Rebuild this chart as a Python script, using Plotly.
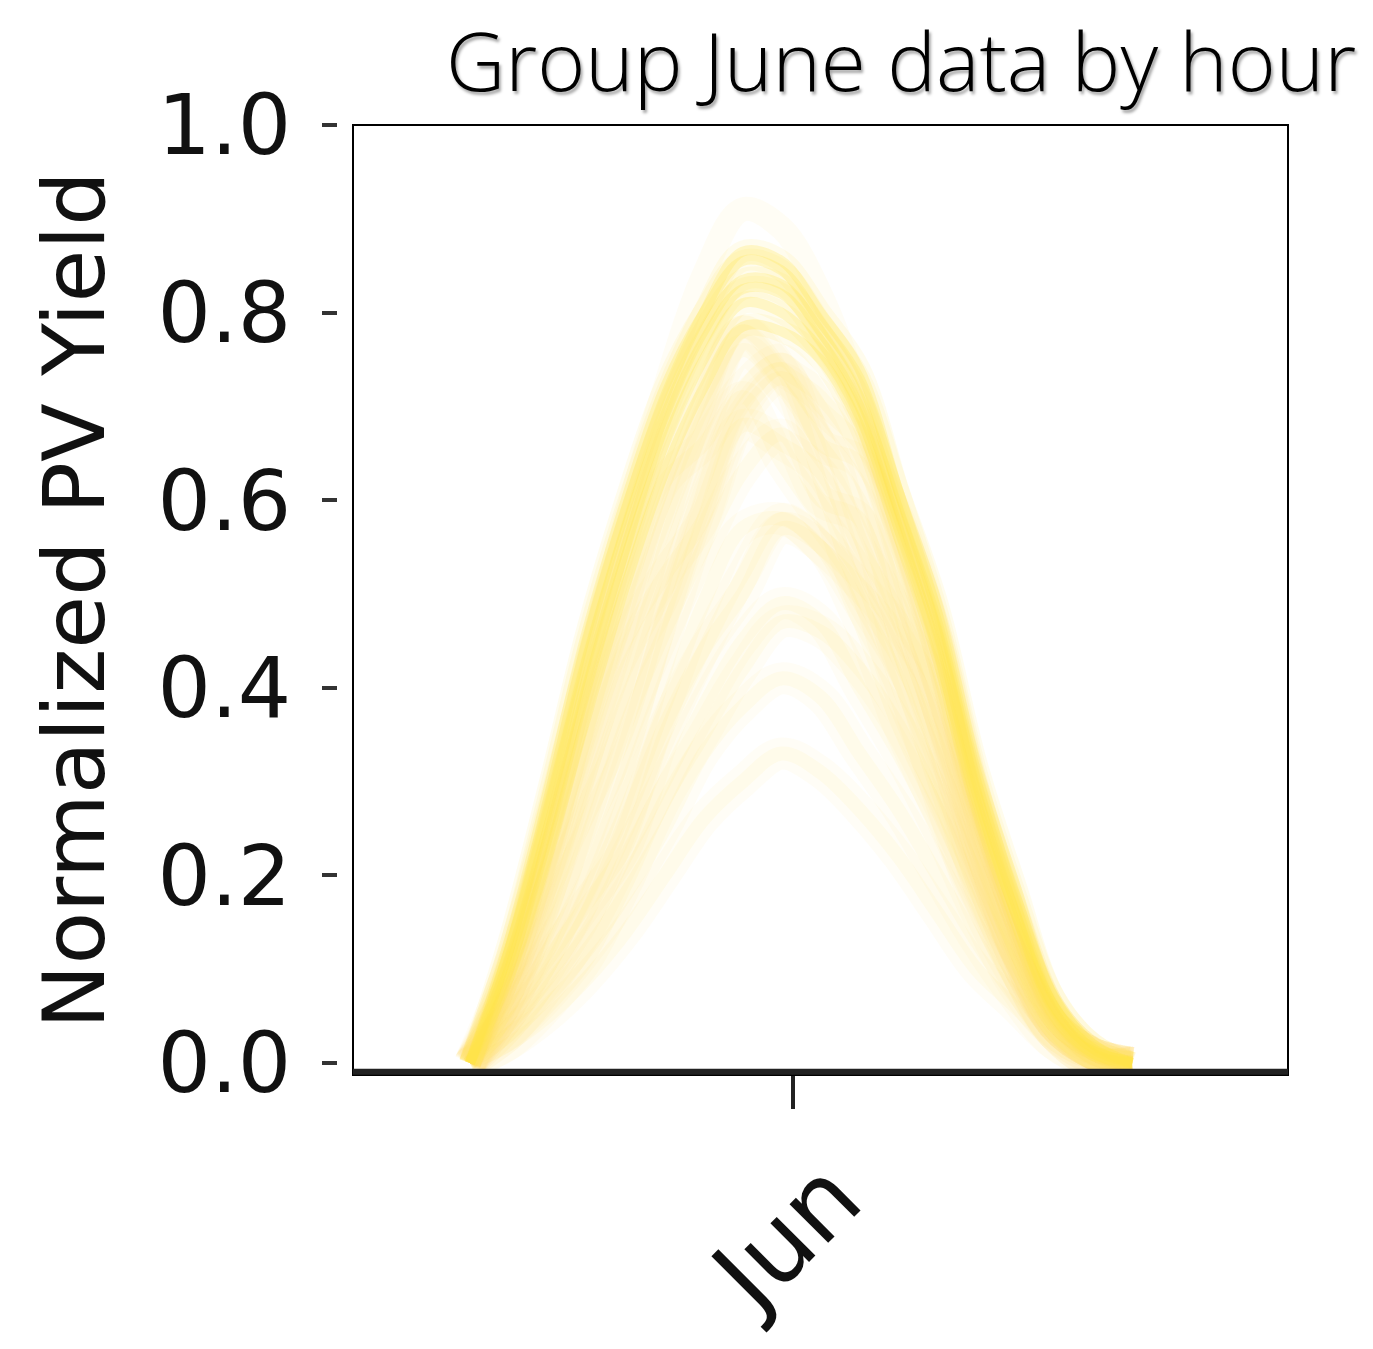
import plotly.graph_objects as go

# Hour of day for each sample
hours = [3, 4, 5, 6, 7, 8, 9, 10, 11, 12, 13, 14, 15, 16, 17, 18, 19, 20]

# Near clear-sky June days (form the bright outer band)
clear_a = [0, 0.13, 0.29, 0.46, 0.60, 0.72, 0.80, 0.855, 0.845, 0.79, 0.73, 0.61, 0.49, 0.32, 0.19, 0.07, 0.02, 0]
clear_b = [0, 0.12, 0.27, 0.43, 0.57, 0.69, 0.78, 0.835, 0.83, 0.78, 0.71, 0.59, 0.47, 0.30, 0.17, 0.06, 0.015, 0]
clear_c = [0, 0.10, 0.24, 0.40, 0.54, 0.66, 0.75, 0.81, 0.80, 0.76, 0.69, 0.57, 0.44, 0.28, 0.16, 0.055, 0.01, 0]
clear_d = [0, 0.11, 0.25, 0.41, 0.55, 0.68, 0.77, 0.825, 0.82, 0.77, 0.70, 0.58, 0.46, 0.29, 0.16, 0.06, 0.015, 0]
clear_e = [0, 0.09, 0.22, 0.37, 0.51, 0.63, 0.72, 0.785, 0.78, 0.75, 0.68, 0.56, 0.43, 0.27, 0.15, 0.05, 0.01, 0]
clear_f = [0, 0.12, 0.28, 0.45, 0.59, 0.71, 0.80, 0.865, 0.855, 0.80, 0.74, 0.61, 0.48, 0.31, 0.18, 0.07, 0.02, 0]
clear_g = [0, 0.10, 0.25, 0.42, 0.58, 0.72, 0.84, 0.91, 0.89, 0.82, 0.71, 0.57, 0.44, 0.29, 0.15, 0.05, 0.01, 0]

# Cloudy / partly cloudy June days (fainter interior)
cloud_1 = [0, 0.05, 0.12, 0.20, 0.31, 0.45, 0.58, 0.68, 0.66, 0.63, 0.55, 0.48, 0.36, 0.22, 0.12, 0.04, 0.01, 0]
cloud_2 = [0, 0.08, 0.18, 0.30, 0.42, 0.50, 0.62, 0.71, 0.64, 0.58, 0.52, 0.40, 0.30, 0.20, 0.10, 0.03, 0.005, 0]
cloud_3 = [0, 0.03, 0.08, 0.14, 0.22, 0.30, 0.38, 0.45, 0.49, 0.47, 0.40, 0.33, 0.25, 0.16, 0.08, 0.03, 0.005, 0]
cloud_4 = [0, 0.06, 0.15, 0.28, 0.40, 0.55, 0.68, 0.76, 0.72, 0.66, 0.60, 0.50, 0.38, 0.25, 0.13, 0.04, 0.01, 0]
cloud_5 = [0, 0.02, 0.05, 0.09, 0.14, 0.20, 0.26, 0.30, 0.33, 0.31, 0.27, 0.22, 0.16, 0.10, 0.06, 0.02, 0.0, 0]
cloud_6 = [0, 0.07, 0.17, 0.26, 0.35, 0.48, 0.60, 0.70, 0.74, 0.66, 0.64, 0.53, 0.41, 0.27, 0.14, 0.05, 0.01, 0]
cloud_7 = [0, 0.04, 0.10, 0.18, 0.27, 0.38, 0.49, 0.57, 0.58, 0.55, 0.47, 0.36, 0.27, 0.18, 0.10, 0.03, 0.0, 0]
cloud_8 = [0, 0.09, 0.21, 0.35, 0.48, 0.60, 0.70, 0.78, 0.74, 0.71, 0.65, 0.52, 0.38, 0.24, 0.12, 0.04, 0.01, 0]
cloud_9 = [0, 0.05, 0.11, 0.17, 0.23, 0.35, 0.44, 0.52, 0.58, 0.55, 0.51, 0.46, 0.35, 0.23, 0.12, 0.04, 0.01, 0]
cloud_10 = [0, 0.03, 0.07, 0.12, 0.18, 0.25, 0.33, 0.38, 0.41, 0.39, 0.33, 0.27, 0.20, 0.13, 0.07, 0.02, 0.0, 0]
cloud_11 = [0, 0.06, 0.14, 0.24, 0.36, 0.46, 0.55, 0.63, 0.67, 0.60, 0.58, 0.44, 0.33, 0.21, 0.11, 0.04, 0.01, 0]
cloud_12 = [0, 0.10, 0.23, 0.38, 0.50, 0.62, 0.66, 0.72, 0.75, 0.70, 0.66, 0.58, 0.45, 0.28, 0.15, 0.05, 0.01, 0]
cloud_13 = [0, 0.04, 0.09, 0.16, 0.26, 0.36, 0.44, 0.50, 0.57, 0.55, 0.49, 0.41, 0.29, 0.17, 0.09, 0.03, 0.0, 0]
cloud_14 = [0, 0.07, 0.19, 0.33, 0.45, 0.52, 0.58, 0.69, 0.73, 0.68, 0.56, 0.47, 0.40, 0.26, 0.14, 0.05, 0.01, 0]
cloud_15 = [0, 0.02, 0.06, 0.11, 0.19, 0.28, 0.35, 0.42, 0.47, 0.46, 0.42, 0.36, 0.28, 0.19, 0.10, 0.03, 0.0, 0]
cloud_16 = [0, 0.08, 0.20, 0.34, 0.47, 0.58, 0.69, 0.78, 0.74, 0.62, 0.50, 0.43, 0.34, 0.21, 0.11, 0.04, 0.01, 0]

x_tick_vals = [11.3]
x_tick_text = ["Jun"]
y_tick_vals = [0.0, 0.2, 0.4, 0.6, 0.8, 1.0]
y_tick_text = ["0.0", "0.2", "0.4", "0.6", "0.8", "1.0"]

title_text = "Group June data by hour"
y_title = "Normalized PV Yield"

clear_days = [clear_a, clear_b, clear_c, clear_d, clear_e, clear_f]
faint_days = [clear_g]
cloudy_days = [cloud_1, cloud_2, cloud_3, cloud_4, cloud_5, cloud_6, cloud_7, cloud_8,
               cloud_9, cloud_10, cloud_11, cloud_12, cloud_13, cloud_14, cloud_15, cloud_16]

fig = go.Figure()

def add_day(vals, color, width):
    fig.add_trace(go.Scatter(x=hours, y=vals, mode="lines", line_shape="spline",
                             line=dict(color=color, width=width),
                             hoverinfo="skip", showlegend=False))

# soft halos (blur-like)
for d in cloudy_days:
    add_day(d, "rgba(255,225,110,0.06)", 32)
for d in cloudy_days:
    add_day(d, "rgba(255,225,100,0.08)", 14)
for d in faint_days:
    add_day(d, "rgba(255,228,120,0.07)", 24)
for d in clear_days:
    add_day(d, "rgba(255,228,80,0.10)", 22)
for d in clear_days:
    add_day(d, "rgba(255,228,70,0.24)", 10)

W, H = 1373, 1349
L, R, T, B = 337, 85, 125, 274

fig.update_layout(
    width=W, height=H,
    margin=dict(l=L, r=R, t=T, b=B, autoexpand=False),
    paper_bgcolor="white", plot_bgcolor="white",
    showlegend=False,
    xaxis=dict(
        domain=[16 / 951, 1], range=[0, 24],
        showgrid=False, zeroline=False, showline=False,
        tickmode="array", tickvals=x_tick_vals, ticktext=x_tick_text,
        ticks="outside", ticklen=33, tickwidth=4, tickcolor="#222",
        tickangle=-45,
        tickfont=dict(family="DejaVu Sans", size=100, color="#111"),
        ticklabelshift=38, ticklabelstandoff=-10,
    ),
    yaxis=dict(
        anchor="free", position=0,
        range=[-0.0128, 1.0],
        showgrid=False, zeroline=False, showline=False,
        tickmode="array", tickvals=y_tick_vals, ticktext=y_tick_text,
        ticks="outside", ticklen=15, tickwidth=4, tickcolor="#333",
        tickfont=dict(family="DejaVu Sans", size=84, color="#111"),
        ticklabelstandoff=14,
        title=dict(text=y_title, font=dict(family="DejaVu Sans", size=86, color="#111"),
                   standoff=23),
    ),
    shapes=[
        dict(type="rect", xref="x domain", yref="y domain", x0=0, x1=1, y0=0, y1=1,
             line=dict(color="black", width=2), layer="above"),
        dict(type="line", xref="x domain", yref="y domain", x0=0, x1=1,
             y0=0.0035, y1=0.0035, line=dict(color="#222", width=6), layer="above"),
    ],
    annotations=[
        dict(text=title_text, xref="paper", yref="paper", x=0.593, y=1.069,
             xanchor="center", yanchor="middle", showarrow=False,
             font=dict(family="Open Sans", size=82, color="black", weight=300,
                       shadow="2px 3px 3px rgba(0,0,0,0.35)")),
    ],
)

# remove the default page margin so the figure fills the window exactly
fig.write_html("out.html", config={"displayModeBar": False},
               post_script="document.body.style.margin='0';document.body.style.overflow='hidden';")
